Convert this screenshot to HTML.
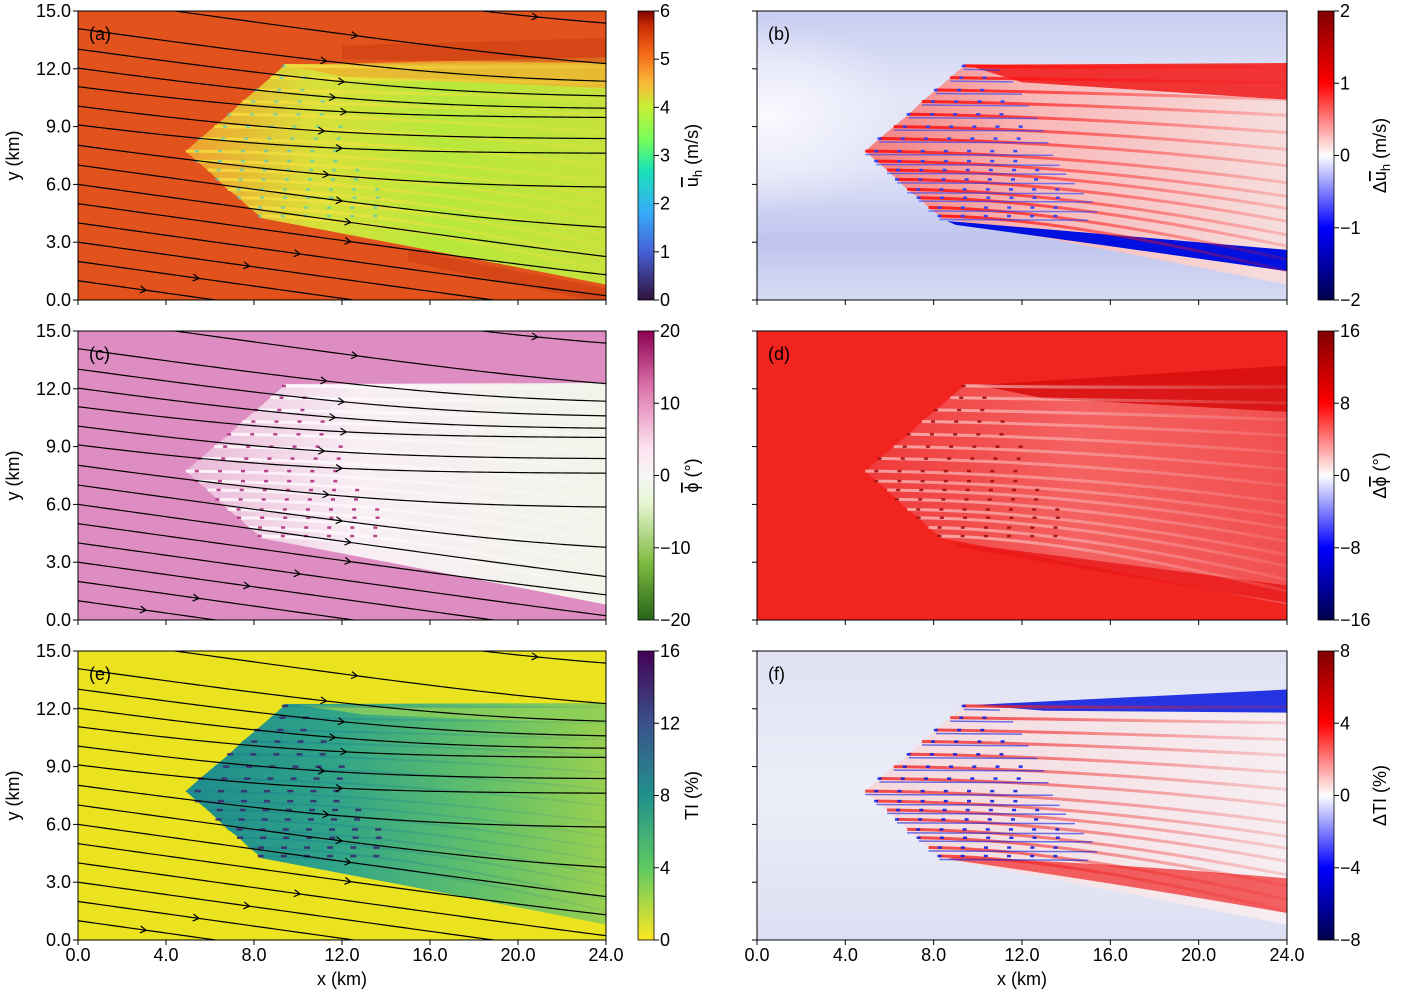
<!DOCTYPE html>
<html><head><meta charset="utf-8"><style>
body{margin:0;background:#fff}
svg{display:block;font-family:"Liberation Sans","DejaVu Sans",sans-serif}
</style></head><body>
<svg id="fig" width="1416" height="992" viewBox="0 0 1416 992" xmlns="http://www.w3.org/2000/svg">
<defs id="defs"></defs>
</svg>
<script>
// ---- data ----
const xTicks=[0,4,8,12,16,20,24];
const xTickLabels=["0.0","4.0","8.0","12.0","16.0","20.0","24.0"];
const yTicks=[0,3,6,9,12,15];
const yTickLabels=["0.0","3.0","6.0","9.0","12.0","15.0"];
// turbine rows (km)
const rowY=[12.15,11.54,10.9,10.3,9.64,9.0,8.38,7.73,7.21,6.75,6.26,5.74,5.31,4.8,4.36];
const rowStart=[9.36,8.75,8.1,7.47,6.87,6.19,5.55,4.9,5.4,5.89,6.34,6.8,7.32,7.77,8.26];
const rowEnd=[10.0,10.6,11.0,11.3,11.7,12.0,12.2,12.4,12.7,13.0,13.4,13.8,14.2,14.4,14.0];
// streamlines (km): y at x=0 (virtual for lines entering from top), y asymptote at right
const streamStart=[17.8,15.7,14.07,13,12,11,10,9,8,7,6,5,4,3,2,1];
const streamEnd=[13.8,11.7,11.2,10.5,9.9,9.45,8.35,7.6,5.8,3.4,0.8,0.15,-1.5,-2.5,-3.5,-4.5];
const streamArrowX=[20.9,12.7,11.3,12.1,11.7,12.2,11.2,12,11.4,12,12.4,12.4,10.1,7.8,5.5,3.1];
// colorbars
const cbTicksA=[0,1,2,3,4,5,6];
const cbTicksB=[-2,-1,0,1,2];
const cbTicksC=[-20,-10,0,10,20];
const cbTicksD=[-16,-8,0,8,16];
const cbTicksE=[0,4,8,12,16];
const cbTicksF=[-8,-4,0,4,8];

const NS="http://www.w3.org/2000/svg";
const svg=document.getElementById('fig');
const defs=document.getElementById('defs');
function mk(tag,attrs,parent){const e=document.createElementNS(NS,tag);for(const k in attrs)e.setAttribute(k,attrs[k]);(parent||svg).appendChild(e);return e;}
function grad(id,stops,x1,y1,x2,y2,user){const g=mk('linearGradient',{id:id,x1:x1,y1:y1,x2:x2,y2:y2},defs);if(user)g.setAttribute('gradientUnits','userSpaceOnUse');stops.forEach(s=>mk('stop',{offset:s[0],'stop-color':s[1],'stop-opacity':s[2]===undefined?1:s[2]},g));return g;}

const colX=[78,757], colW=[528,530], rowTop=[11,331,651], PH=289;
function sx(c,x){return colX[c]+x/24*colW[c];}
function sy(r,y){return rowTop[r]+(15-y)/15*PH;}

const seismic=[[0,'#00004c'],[0.25,'#0000ff'],[0.5,'#ffffff'],[0.75,'#ff0000'],[1,'#800000']];
const cfg=[
 {c:0,r:0,lab:'(a)',bg:'#e2521c',cb:'turbo',ticks:cbTicksA,cbLab:['u','h',' (m/s)',''],vmin:0,vmax:6},
 {c:1,r:0,lab:'(b)',bg:'#d2d6f2',cb:'seis',ticks:cbTicksB,cbLab:['u','h',' (m/s)','Δ'],vmin:-2,vmax:2},
 {c:0,r:1,lab:'(c)',bg:'#dd8dc1',cb:'piyg',ticks:cbTicksC,cbLab:['ϕ','',' (°)',''],vmin:-20,vmax:20},
 {c:1,r:1,lab:'(d)',bg:'#f22420',cb:'seis',ticks:cbTicksD,cbLab:['ϕ','',' (°)','Δ'],vmin:-16,vmax:16},
 {c:0,r:2,lab:'(e)',bg:'#ebe31f',cb:'vir',ticks:cbTicksE,cbLab:['TI (%)'],vmin:0,vmax:16},
 {c:1,r:2,lab:'(f)',bg:'#e3e5f4',cb:'seis',ticks:cbTicksF,cbLab:['ΔTI (%)'],vmin:-8,vmax:8}
];
const cbStops={
 turbo:[[0,'#30123b'],[0.17,'#4662d7'],[0.3,'#36aaf9'],[0.45,'#1ae4b6'],[0.55,'#72fe5e'],[0.67,'#c8ef34'],[0.75,'#faba39'],[0.85,'#f66b19'],[0.95,'#ca2a04'],[1,'#7a0403']],
 seis:seismic,
 piyg:[[0,'#276419'],[0.2,'#7fbc41'],[0.4,'#e6f5d0'],[0.5,'#f7f7f7'],[0.6,'#fde0ef'],[0.8,'#de77ae'],[1,'#8e0152']],
 vir:[[0,'#fde725'],[0.25,'#5ec962'],[0.5,'#21918c'],[0.75,'#3b528b'],[1,'#440154']]
};
const cbX=[638,1318];

const SLOPE=0.16, KS=0.7;
function streamY(s,e,x){const z=(s-SLOPE*x-e)/KS;return e+KS*(z>30?z:Math.log(1+Math.exp(z)));}
function rightY(y){return 1.5+(y-4.36)/(12.15-4.36)*(12.1-1.5);}

cfg.forEach((p,i)=>{
 const c=p.c,r=p.r,x0=colX[c],y0=rowTop[r],w=colW[c];
 const g=mk('g',{});  
 const cp=mk('clipPath',{id:'clip'+i},defs); mk('rect',{x:x0,y:y0,width:w,height:PH},cp);
 const pg=mk('g',{'clip-path':'url(#clip'+i+')'},g);
 mk('rect',{x:x0,y:y0,width:w,height:PH,fill:p.bg},pg);
 if(i==1||i==5){
  grad('bgv'+i,i==1?[[0,'#c8cdf0'],[0.3,'#e4e6f8'],[0.55,'#dfe2f6'],[0.8,'#bfc4ee'],[1,'#d8dbf4']]:[[0,'#e0e2f4'],[0.5,'#eceef8'],[1,'#dcdff2']],0,0,0,1,false);
  mk('rect',{x:x0,y:y0,width:w,height:PH,fill:'url(#bgv'+i+')'},pg);
  if(i==1){const rg=mk('radialGradient',{id:'bgh',cx:0.5,cy:0.5,r:0.5},defs);
   mk('stop',{offset:0,'stop-color':'#fbfbff','stop-opacity':0.95},rg);mk('stop',{offset:0.6,'stop-color':'#f0f1fc','stop-opacity':0.6},rg);mk('stop',{offset:1,'stop-color':'#e8e9fa','stop-opacity':0},rg);
   mk('ellipse',{cx:x0+10,cy:sy(r,9.5),rx:150,ry:95,fill:'url(#bgh)'},pg);}
 }
 // wake polygon
 const top=[sx(c,rowStart[0]),sy(r,rowY[0]+0.1)];
 let poly=`M${top[0]},${top[1]} L${sx(c,24)},${sy(r,12.3)} L${sx(c,24)},${sy(r,0.8)} Q${sx(c,16)},${sy(r,2.6)} ${sx(c,rowStart[14])},${sy(r,rowY[14]-0.1)} `;
 for(let k=14;k>=0;k--) poly+=`L${sx(c,rowStart[k])},${sy(r,rowY[k])} `;
 poly+='Z';
 const gx1=sx(c,5),gx2=sx(c,24);
 if(i==0)grad('wA',[[0,'#f0a030'],[0.3,'#d8e03a'],[0.6,'#b8e83c'],[1,'#c6e23c']],gx1,0,gx2,0,true);
 if(i==1)grad('wB',[[0,'#f48080'],[0.4,'#f8b8b8'],[1,'#f6dede']],gx1,0,gx2,0,true);
 if(i==2)grad('wC',[[0,'#eab8d8'],[0.4,'#f8eef4'],[1,'#f2f4ea']],gx1,0,gx2,0,true);
 if(i==3)grad('wD',[[0,'#f03a3a'],[0.5,'#f46262'],[1,'#f25050']],gx1,0,gx2,0,true);
 if(i==4)grad('wE',[[0,'#1f8c8c'],[0.35,'#2fa488'],[0.7,'#62c06a'],[1,'#98d050']],gx1,0,gx2,0,true);
 if(i==5)grad('wF',[[0,'#f4d8dc'],[1,'#f6eef2']],gx1,0,gx2,0,true);
 const wk=mk('path',{d:poly,fill:'url(#w'+'ABCDEF'[i]+')'},pg);  
 // extra bands
 if(i==0){mk('path',{d:`M${sx(c,9.4)},${sy(r,12.2)} L${sx(c,24)},${sy(r,12.6)} L${sx(c,24)},${sy(r,11.0)} L${sx(c,12)},${sy(r,11.6)}Z`,fill:'#f0b030',opacity:0.8},pg);
  mk('path',{d:`M${sx(c,12)},${sy(r,13.2)} L${sx(c,24)},${sy(r,13.6)} L${sx(c,24)},${sy(r,12.3)} L${sx(c,12)},${sy(r,12.5)}Z`,fill:'#c83a10',opacity:0.5},pg);
  mk('path',{d:`M${sx(c,15)},${sy(r,2.6)} L${sx(c,24)},${sy(r,0.6)} L${sx(c,24)},${sy(r,-0.2)} L${sx(c,15)},${sy(r,2.0)}Z`,fill:'#c83a10',opacity:0.5},pg);}
 if(i==1){mk('path',{d:`M${sx(c,9.5)},${sy(r,12.2)} L${sx(c,24)},${sy(r,12.3)} L${sx(c,24)},${sy(r,10.4)} L${sx(c,12)},${sy(r,11.3)}Z`,fill:'#f01818',opacity:0.85},pg);
  mk('path',{d:`M${sx(c,8.6)},${sy(r,4.1)} Q${sx(c,16)},${sy(r,3.4)} ${sx(c,24)},${sy(r,2.6)} L${sx(c,24)},${sy(r,1.5)} Q${sx(c,16)},${sy(r,2.8)} ${sx(c,9)},${sy(r,3.9)}Z`,fill:'#0010e0'},pg);}
 if(i==3){mk('path',{d:`M${sx(c,10)},${sy(r,12.2)} L${sx(c,24)},${sy(r,13.2)} L${sx(c,24)},${sy(r,10.8)} L${sx(c,13)},${sy(r,11.5)}Z`,fill:'#d81010',opacity:0.9},pg);
  mk('path',{d:`M${sx(c,9)},${sy(r,4.0)} Q${sx(c,16)},${sy(r,3.0)} ${sx(c,24)},${sy(r,1.8)} L${sx(c,24)},${sy(r,0.9)} Q${sx(c,16)},${sy(r,2.4)} ${sx(c,9)},${sy(r,3.8)}Z`,fill:'#e81616',opacity:0.8},pg);}
 if(i==5){mk('path',{d:`M${sx(c,9.8)},${sy(r,12.2)} L${sx(c,24)},${sy(r,13.0)} L${sx(c,24)},${sy(r,11.8)} L${sx(c,13)},${sy(r,11.9)}Z`,fill:'#1020e0',opacity:0.9},pg);
  mk('path',{d:`M${sx(c,8.6)},${sy(r,4.2)} Q${sx(c,16)},${sy(r,3.0)} ${sx(c,24)},${sy(r,1.4)} L${sx(c,24)},${sy(r,3.2)} Q${sx(c,16)},${sy(r,4.0)} ${sx(c,9)},${sy(r,4.3)}Z`,fill:'#f03030',opacity:0.75},pg);}
 if(i==4){mk('path',{d:`M${sx(c,10)},${sy(r,12.2)} L${sx(c,24)},${sy(r,12.0)} L${sx(c,24)},${sy(r,11.2)} L${sx(c,13)},${sy(r,11.7)}Z`,fill:'#8ed058',opacity:0.8},pg);}
 // streaks per row
 const streakCol=[['#f8e040','#30c8e0'],['#ff1010','#2040ff'],['#ffffff','#b0307f'],['#ffffff','#a01010'],['#1e7e90','#3a2a70'],['#f02020','#1020e0']][i];
 const stOp=[0.8,0.9,0.8,0.5,0.5,0.8][i];
 rowY.forEach((y,k)=>{
  const ye=rightY(y);
  const id='st'+i+'_'+k;
  grad(id,[[0,streakCol[0],stOp],[0.5,streakCol[0],stOp*0.55],[1,streakCol[0],stOp*0.2]],sx(c,rowStart[k]),0,sx(c,24),0,true);
  const s=mk('path',{d:`M${sx(c,rowStart[k])},${sy(r,y)} Q${sx(c,14)},${sy(r,y-0.1)} ${sx(c,24)},${sy(r,ye)}`,stroke:'url(#'+id+')','stroke-width':i==4?2:3,fill:'none'},pg);
   
  if(i==1||i==5){mk('path',{d:`M${sx(c,rowStart[k])},${sy(r,y-0.18)} L${sx(c,rowEnd[k]+1)},${sy(r,y-0.22)}`,stroke:streakCol[1],'stroke-width':1.5,opacity:0.6,fill:'none'},pg);}
  // turbines
  for(let x=rowStart[k]+(k%2)*0.5;x<=rowEnd[k];x+=1.05){
   const t=mk('rect',{x:sx(c,x)-2,y:sy(r,y)-1.2,width:(i==4?6:4),height:2.5,fill:streakCol[1],opacity:i==0?0.55:0.9},pg);
    
  }
 });
 // streamlines on left column
 if(c==0){
  streamStart.forEach((s,k)=>{
   const e=streamEnd[k];
   let d='';
   for(let x=0;x<=24.001;x+=0.25){d+=(x==0?'M':'L')+sx(c,x).toFixed(2)+','+sy(r,streamY(s,e,x)).toFixed(2)+' ';}
   const l=mk('path',{d:d,stroke:'#000','stroke-width':1.2,fill:'none'},pg);
    
   const xa=streamArrowX[k];
   const ax=sx(c,xa),ay=sy(r,streamY(s,e,xa));
   const bx=sx(c,xa+0.1),by=sy(r,streamY(s,e,xa+0.1));
   const ang=Math.atan2(by-ay,bx-ax)*180/Math.PI;
   const a=mk('path',{d:'M-6,-3.5 L0,0 L-6,3.5',stroke:'#000','stroke-width':1.2,fill:'none',transform:`translate(${ax},${ay}) rotate(${ang})`},pg);
    
  });
 }
 // frame
 mk('rect',{x:x0,y:y0,width:w,height:PH,fill:'none',stroke:'#000','stroke-width':1},g);
 const lt=mk('text',{x:x0+11,y:y0+29,'font-size':18},g); lt.textContent=p.lab;
  
 // ticks
 xTicks.forEach((v,k)=>{const X=sx(c,v);mk('line',{x1:X,y1:y0+PH,x2:X,y2:y0+PH+5,stroke:'#000'},g);
  if(r==2){const t=mk('text',{x:X,y:y0+PH+21,'font-size':18,'text-anchor':'middle'},g);t.textContent=xTickLabels[k];
   }});
 yTicks.forEach((v,k)=>{const Y=sy(r,v);mk('line',{x1:x0-5,y1:Y,x2:x0,y2:Y,stroke:'#000'},g);
  if(c==0){const t=mk('text',{x:x0-7,y:Y+6,'font-size':18,'text-anchor':'end'},g);t.textContent=yTickLabels[k];
   }});
 if(c==0){const t=mk('text',{x:0,y:0,'font-size':18,'text-anchor':'middle',transform:`translate(19,${y0+PH/2}) rotate(-90)`},g);t.textContent='y (km)';
  }
 if(r==2){const t=mk('text',{x:x0+w/2,y:985,'font-size':18,'text-anchor':'middle'},g);t.textContent='x (km)';
  }
 // colorbar
 const cx=cbX[c];
 grad('cb'+i,cbStops[p.cb].map(s=>[s[0],s[1]]),0,1,0,0,false);
 const cb=mk('rect',{x:cx,y:y0,width:16,height:PH,fill:'url(#cb'+i+')',stroke:'#000','stroke-width':0.8},g);
 
 p.ticks.forEach(v=>{const Y=y0+PH-(v-p.vmin)/(p.vmax-p.vmin)*PH;mk('line',{x1:cx+16,y1:Y,x2:cx+21,y2:Y,stroke:'#000'},g);
  const t=mk('text',{x:cx+22,y:Y+6,'font-size':18},g);t.textContent=String(v).replace('-','−');
  });
 const lx=cx+(c==0?60:68), ly=y0+PH/2;
 const ct=mk('text',{x:0,y:0,'font-size':18,'text-anchor':'middle',transform:`translate(${lx},${ly}) rotate(-90)`},g);
 
 if(p.cbLab.length==1){ct.textContent=p.cbLab[0];}
 else{ if(p.cbLab[3]){mk('tspan',{},ct).textContent=p.cbLab[3];}
  const t1=mk('tspan',{'text-decoration':'overline'},ct);t1.textContent=p.cbLab[0];
  if(p.cbLab[1]){mk('tspan',{'font-size':13,dy:4},ct).textContent=p.cbLab[1];mk('tspan',{dy:-4},ct).textContent=p.cbLab[2];}
  else mk('tspan',{},ct).textContent=p.cbLab[2];
 }
});
</script>
</body></html>
